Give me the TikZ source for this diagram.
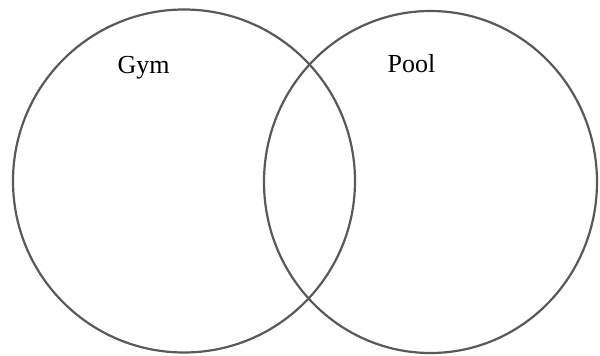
\documentclass[tikz,border=0pt]{standalone}
\usepackage{fontspec}
\setmainfont{Liberation Serif}
\begin{document}
\begin{tikzpicture}[x=1pt,y=-1pt]
		\useasboundingbox (0,0) rectangle (600,356);
		\draw[line width=2.2pt,black!65] (184,181) ellipse (171 and 171.5);
		\draw[line width=2.2pt,black!65] (430.5,182) ellipse (166.5 and 171);
		\node[anchor=base,font=\fontsize{26}{28}\selectfont] (gym) at (143.5,73) {Gym};
		\node[anchor=base,font=\fontsize{26}{28}\selectfont] (pool) at (411.5,72) {Pool};
	    \end{tikzpicture}
\end{document}
